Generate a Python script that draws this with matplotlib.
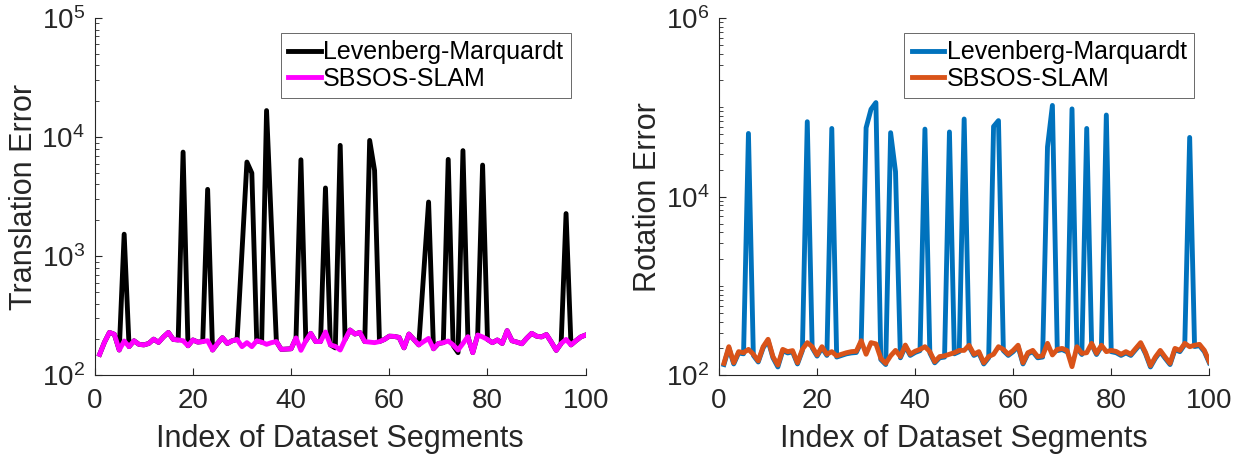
import numpy as np
import matplotlib
matplotlib.use("Agg")
import matplotlib.pyplot as plt
from matplotlib.ticker import LogLocator, NullFormatter

plt.rcParams['font.family'] = ['Liberation Sans', 'DejaVu Sans']
plt.rcParams['mathtext.fontset'] = 'custom'
plt.rcParams['mathtext.rm'] = 'Liberation Sans'
plt.rcParams['mathtext.it'] = 'Liberation Sans'

segments = np.arange(1, 101)

# translation error per segment
trans_lm = [150, 190, 229, 221, 163, 1530, 174, 195, 182, 180,
            185, 201, 189, 210, 229, 200, 198, 7480, 177, 198,
            190, 192, 3640, 163, 185, 207, 185, 195, 200, 1100,
            6170, 4990, 195, 190, 16700, 1780, 192, 165, 166, 167,
            206, 6450, 195, 225, 192, 192, 3740, 180, 170, 8520,
            200, 240, 222, 229, 192, 9380, 5250, 192, 200, 213,
            212, 208, 170, 222, 200, 180, 716, 2850, 167, 185,
            188, 6500, 178, 155, 7700, 211, 155, 218, 5820, 200,
            188, 198, 185, 237, 195, 190, 184, 205, 225, 213,
            210, 220, 190, 162, 185, 2280, 180, 195, 210, 218]
trans_sbsos = [150, 190, 229, 221, 163, 194, 174, 195, 182, 180,
               185, 201, 189, 210, 229, 200, 198, 195, 177, 198,
               190, 192, 195, 163, 185, 207, 185, 195, 200, 174,
               188, 174, 195, 190, 182, 188, 192, 165, 166, 167,
               206, 162, 195, 225, 192, 192, 231, 180, 175, 163,
               200, 240, 222, 229, 192, 190, 188, 192, 200, 213,
               212, 208, 170, 222, 200, 180, 192, 204, 167, 185,
               188, 194, 180, 163, 185, 211, 155, 218, 210, 200,
               188, 198, 185, 237, 195, 190, 184, 205, 225, 213,
               210, 220, 190, 162, 185, 200, 180, 195, 210, 218]

# rotation error per segment
rot_lm = [132, 203, 134, 178, 174, 51000, 167, 141, 203, 245,
          157, 124, 189, 178, 183, 134, 189, 69000, 203, 164,
          203, 167, 58000, 160, 167, 174, 178, 180, 236, 59000,
          95000, 113000, 150, 132, 52000, 19000, 157, 211, 167, 180,
          189, 57000, 178, 138, 157, 160, 53000, 174, 184, 74000,
          210, 167, 178, 134, 157, 61000, 71000, 189, 167, 184,
          210, 134, 174, 184, 157, 160, 36000, 105000, 189, 194,
          183, 96000, 203, 171, 58000, 221, 171, 210, 82000, 184,
          179, 167, 178, 167, 194, 225, 174, 124, 155, 184,
          155, 132, 194, 184, 221, 46000, 210, 215, 184, 138]
rot_sbsos = [136, 209, 138, 184, 179, 195, 172, 145, 209, 253,
             162, 130, 195, 184, 189, 138, 195, 232, 209, 169,
             209, 172, 184, 165, 172, 179, 184, 186, 244, 172,
             232, 225, 155, 136, 165, 190, 162, 218, 172, 186,
             195, 209, 184, 142, 162, 165, 172, 179, 190, 190,
             217, 172, 184, 138, 162, 172, 209, 195, 172, 190,
             217, 138, 179, 190, 162, 165, 228, 169, 195, 200,
             189, 125, 209, 176, 179, 228, 176, 217, 184, 190,
             185, 172, 184, 172, 200, 232, 180, 128, 160, 190,
             160, 136, 200, 190, 228, 209, 217, 222, 190, 142]

text_color = '#262626'

fig = plt.figure(figsize=(12.38, 4.61), dpi=100)
ax1 = fig.add_axes([0.0765, 0.1859, 0.3966, 0.7751])
ax2 = fig.add_axes([0.5808, 0.1859, 0.3960, 0.7751])


def style_axes(ax, ylim, decade_step):
    ax.set_yscale('log')
    ax.set_xlim(0, 100)
    ax.set_ylim(*ylim)
    ax.set_xticks([0, 20, 40, 60, 80, 100])
    ax.yaxis.set_major_locator(LogLocator(base=10 ** decade_step, subs=(1.0,)))
    ax.yaxis.set_minor_locator(LogLocator(base=10, subs=np.arange(1, 10), numticks=20))
    ax.yaxis.set_minor_formatter(NullFormatter())
    ax.tick_params(axis='both', which='major', direction='in', length=5,
                   width=0.8, labelsize=20, colors=text_color, pad=7)
    ax.tick_params(axis='x', which='major', pad=9)
    ax.tick_params(axis='both', which='minor', direction='in', length=3,
                   width=0.6, colors=text_color)
    ax.tick_params(axis='x', which='minor', bottom=False)
    for side in ('top', 'right'):
        ax.spines[side].set_visible(False)
    for side in ('left', 'bottom'):
        ax.spines[side].set_color(text_color)
        ax.spines[side].set_linewidth(0.8)
    ax.set_xlabel('Index of Dataset Segments', fontsize=22, color=text_color, labelpad=7)


ax1.plot(segments, trans_lm, color='black', lw=3.5, label='Levenberg-Marquardt')
ax1.plot(segments, trans_sbsos, color='#ff00ff', lw=3.5, label='SBSOS-SLAM')
style_axes(ax1, (1e2, 1e5), 1)
ax1.set_ylabel('Translation Error', fontsize=22, color=text_color, labelpad=2)

ax2.plot(segments, rot_lm, color='#0072BD', lw=3.5, label='Levenberg-Marquardt')
ax2.plot(segments, rot_sbsos, color='#D95319', lw=3.5, label='SBSOS-SLAM')
style_axes(ax2, (1e2, 1e6), 2)
ax2.set_ylabel('Rotation Error', fontsize=22, color=text_color, labelpad=2)

for ax in (ax1, ax2):
    leg = ax.legend(loc='upper right', fontsize=18, frameon=True, fancybox=False,
                    handlelength=1.3, handletextpad=0.1, borderpad=0.3,
                    labelspacing=0.1, borderaxespad=0.6)
    leg.get_frame().set_edgecolor('#262626')
    leg.get_frame().set_linewidth(0.6)
    for line in leg.get_lines():
        line.set_linewidth(3.5)

fig.savefig('out.png', dpi=100)
